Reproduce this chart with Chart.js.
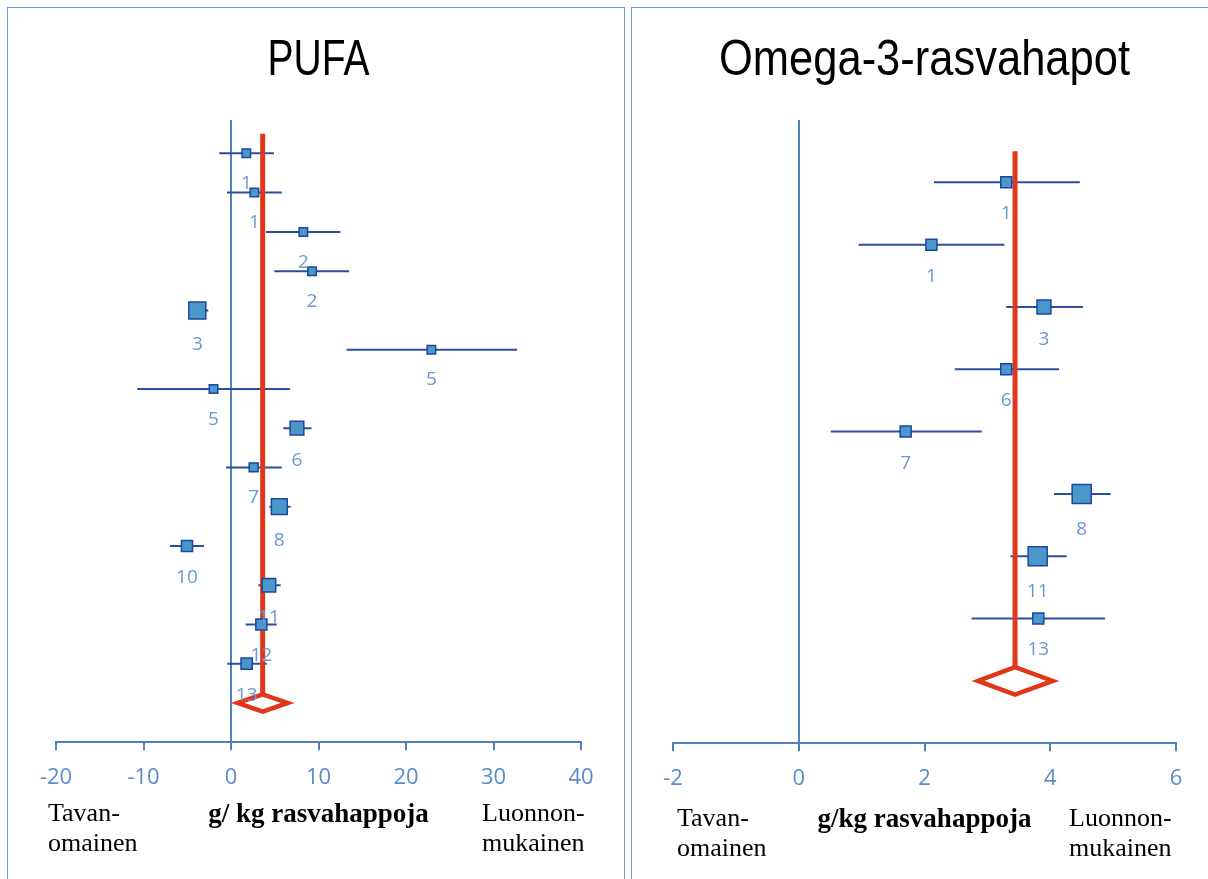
<!DOCTYPE html>
<html>
<head>
<meta charset="utf-8">
<script src="https://cdn.jsdelivr.net/npm/chart.js@4.4.1/dist/chart.umd.min.js"></script>
<style>
body { margin: 0; width: 1208px; height: 879px; overflow: hidden; background: #fff; position: relative; }
.panel { position: absolute; border: 1.5px solid #6f9bd2; border-bottom: none; }
#p1 { left: 7px; top: 7px; width: 616px; height: 880px; }
#p2 { left: 631px; top: 7px; width: 600px; height: 880px; border-right: none; }
canvas { position: absolute; }
.note { position: absolute; font-family: "Liberation Serif", "Times New Roman", serif; font-size: 26px; line-height: 30px; color: #000; }
</style>
</head>
<body>
<div class="panel" id="p1"></div>
<div class="panel" id="p2"></div>
<canvas id="pufa" width="616" height="871" style="left:8px;top:8px"></canvas>
<canvas id="omega" width="576" height="871" style="left:632px;top:8px"></canvas>
<div class="note" style="left:48px;top:798px">Tavan-<br>omainen</div>
<div class="note" style="left:482px;top:798px">Luonnon-<br>mukainen</div>
<div class="note" style="left:677px;top:803px">Tavan-<br>omainen</div>
<div class="note" style="left:1069px;top:803px">Luonnon-<br>mukainen</div>
<script>
// PUFA
let pufaStudy = ["1", "1", "2", "2", "3", "5", "5", "6", "7", "8", "10", "11", "12", "13"];
let pufaEst  = [1.75, 2.67, 8.27, 9.26, -3.85, 22.9, -2.0, 7.54, 2.59, 5.52, -5.03, 4.34, 3.47, 1.79];
let pufaLow  = [-1.34, -0.46, 4.0, 4.95, -4.87, 13.2, -10.7, 5.98, -0.57, 4.38, -6.97, 3.12, 1.68, -0.42];
let pufaHigh = [4.91, 5.8, 12.5, 13.5, -2.59, 32.7, 6.74, 9.2, 5.8, 6.8, -3.09, 5.68, 5.22, 4.08];
let pufaWeight = [1, 1, 1, 1, 4, 1, 1, 2.6, 1.1, 3.5, 1.7, 2.5, 1.7, 1.75];
let pufaPooled = [0.76, 3.62, 6.48]; // low, est, high
let pufaTicks = [-20, 40, 10];

// Omega-3
let omegaStudy = ["1", "1", "3", "6", "7", "8", "11", "13"];
let omegaEst  = [3.30, 2.11, 3.90, 3.30, 1.70, 4.50, 3.80, 3.81];
let omegaLow  = [2.15, 0.95, 3.30, 2.48, 0.51, 4.06, 3.37, 2.75];
let omegaHigh = [4.47, 3.27, 4.52, 4.14, 2.91, 4.96, 4.26, 4.87];
let omegaWeight = [1, 1, 1.6, 1, 1, 3, 3, 1];
let omegaPooled = [2.85, 3.44, 4.04];
let omegaTicks = [-2, 6, 2];

const axisColor = "#4f81bd";
const tickText = "#5a8ccc";
const labelText = "#6a98d0";
const ciColor = "#2c4d9e";
const red = "#e0361a";
const DIAMOND_H = 0.22;

function labelPlugin(names, est, sides, gap) {
    return {
        id: "studyLabels",
        afterDatasetsDraw(chart) {
            let ctx = chart.ctx;
            let x = chart.scales.x, y = chart.scales.y;
            ctx.save();
            ctx.font = '19px "Open Sans", sans-serif';
            ctx.fillStyle = labelText;
            ctx.textAlign = "center";
            ctx.textBaseline = "middle";
            names.forEach((t, i) => {
                ctx.fillText(t, x.getPixelForValue(est[i]), y.getPixelForValue(i + 1) + gap + sides[i] / 2);
            });
            ctx.restore();
        }
    };
}

// narrow title, squeezed horizontally like the original
function titlePlugin(text, squeeze) {
    return {
        id: "narrowTitle",
        afterDraw(chart) {
            let ctx = chart.ctx;
            let a = chart.chartArea;
            ctx.save();
            ctx.translate((a.left + a.right) / 2, 67);
            ctx.scale(squeeze, 1);
            ctx.font = '50px "Liberation Sans", Arial, sans-serif';
            ctx.fillStyle = "#000";
            ctx.textAlign = "center";
            ctx.textBaseline = "alphabetic";
            ctx.fillText(text, 0, 0);
            ctx.restore();
        }
    };
}

function forest(id, p) {
    let n = p.est.length;
    let sides = p.weight.map((w) => p.base * Math.sqrt(w));
    let datasets = [];
    datasets.push({
        data: p.est.map((v, i) => ({ x: v, y: i + 1 })),
        pointStyle: "rect",
        pointRadius: sides.map((s) => s / Math.SQRT2),
        backgroundColor: "#4a97c9",
        borderColor: "#1d46a0",
        borderWidth: 1.5,
        order: 0
    });
    let r = n + 1;
    let [lo, est, hi] = p.pooled;
    datasets.push({
        data: [{ x: est, y: 0.5 }, { x: est, y: r - DIAMOND_H }],
        showLine: true, pointRadius: 0, borderColor: red, borderWidth: 5, order: 1
    });
    datasets.push({
        data: [{ x: lo, y: r }, { x: est, y: r - DIAMOND_H }, { x: hi, y: r }, { x: est, y: r + DIAMOND_H }, { x: lo, y: r }, { x: est, y: r - DIAMOND_H }],
        showLine: true, pointRadius: 0, borderColor: red, borderWidth: 4.5, order: 1
    });
    for (let i = 0; i < n; i++) {
        datasets.push({
            data: [{ x: p.low[i], y: i + 1 }, { x: p.high[i], y: i + 1 }],
            showLine: true, pointRadius: 0, borderColor: ciColor, borderWidth: 2, order: 2
        });
    }
    return new Chart(document.getElementById(id), {
        type: "scatter",
        data: { datasets },
        plugins: [labelPlugin(p.names, p.est, sides, p.gap), titlePlugin(p.title, p.squeeze)],
        options: {
            responsive: false,
            animation: false,
            layout: { padding: p.padding },
            plugins: {
                legend: { display: false },
                tooltip: { enabled: false },
                title: { display: false }
            },
            scales: {
                x: {
                    type: "linear",
                    min: p.ticks[0],
                    max: p.ticks[1],
                    ticks: { stepSize: p.ticks[2], color: tickText, font: { family: '"Open Sans", sans-serif', size: 22 }, padding: 14 },
                    grid: {
                        color: (c) => (c.tick && c.tick.value === 0 ? axisColor : "rgba(0,0,0,0)"),
                        lineWidth: 2,
                        tickColor: axisColor,
                        tickLength: 8,
                        tickWidth: 2
                    },
                    border: { color: axisColor, width: 2 },
                    title: {
                        display: true,
                        text: p.axisTitle,
                        color: "#000",
                        font: { family: '"Liberation Serif", "Times New Roman", serif', size: 27, weight: "bold" },
                        padding: { top: p.titleGap, bottom: 0 }
                    }
                },
                y: { display: false, reverse: true, min: p.yRange[0], max: p.yRange[1] }
            }
        }
    });
}

forest("pufa", {
    names: pufaStudy, est: pufaEst, low: pufaLow, high: pufaHigh, weight: pufaWeight,
    pooled: pufaPooled, ticks: pufaTicks, base: 8.5, gap: 26,
    title: "PUFA", squeeze: 0.78, axisTitle: "g/ kg rasvahappoja", titleGap: -6,
    yRange: [0.15, 16],
    padding: { left: 48, right: 43, top: 112, bottom: 48 }
});

forest("omega", {
    names: omegaStudy, est: omegaEst, low: omegaLow, high: omegaHigh, weight: omegaWeight,
    pooled: omegaPooled, ticks: omegaTicks, base: 11, gap: 26,
    title: "Omega-3-rasvahapot", squeeze: 0.87, axisTitle: "g/kg rasvahappoja", titleGap: -2,
    yRange: [0, 10],
    padding: { left: 41, right: 32, top: 112, bottom: 43 }
});
</script>
</body>
</html>
